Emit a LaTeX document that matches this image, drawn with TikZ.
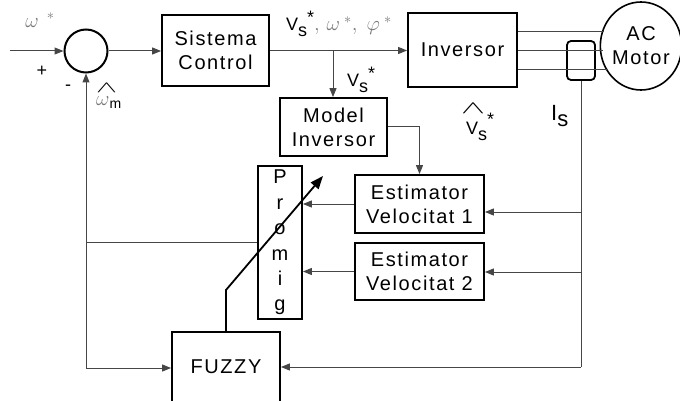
\documentclass[tikz,border=0pt]{standalone}
\usepackage{graphicx}
\usepackage{fontspec}
\setmainfont{Liberation Sans}[LetterSpace=8]
\usetikzlibrary{arrows.meta,shapes.geometric}
\definecolor{gr}{RGB}{120,120,120}
\definecolor{ln}{RGB}{70,70,70}
\begin{document}
\begin{tikzpicture}[x=1pt,y=-1pt,
  font=\fontsize{20}{24}\selectfont,
  blk/.style={draw,line width=1.8pt,align=center,inner sep=0pt},
  conn/.style={draw=ln,line width=1pt},
  arr/.style={conn,-{Triangle[length=9pt,width=7pt]}},
  lbl/.style={inner sep=0pt,font=\fontsize{18}{20}\selectfont},
  gry/.style={text=gr}]
\useasboundingbox (0,0) rectangle (680,401);
\clip (0,0) rectangle (680,401);
% blocks
\node[blk,circle,minimum size=43pt,line width=2pt] (sum) at (86,51) {};
\node[blk,minimum width=107pt,minimum height=71pt] (sc) at (215.5,50.5) {Sistema\\Control};
\node[blk,minimum width=109pt,minimum height=74pt] (inv) at (462.5,50) {Inversor};
\node[blk,ellipse,minimum width=78pt,minimum height=88pt,line width=1.6pt] (mot) at (641,46) {AC\\Motor};
\node[draw,line width=1.8pt,rounded corners=4pt,minimum width=28pt,minimum height=39pt,inner sep=0pt] (sen) at (581,60.5) {};
\node[blk,minimum width=107pt,minimum height=58pt] (mi) at (333.5,127) {Model\\Inversor};
\node[blk,minimum width=129pt,minimum height=58pt] (e1) at (419.5,204) {Estimator\\Velocitat 1};
\node[blk,minimum width=129pt,minimum height=57pt] (e2) at (419.5,271.5) {Estimator\\Velocitat 2};
\node[blk,minimum width=44pt,minimum height=153pt,font=\fontsize{20}{25.4}\selectfont] (pr) at (280,242.5) {P\\r\\o\\m\\i\\g};
\node[blk,minimum width=108pt,minimum height=80pt] (fz) at (226,372) {};
\node[inner sep=0pt] (fzt) at (226,367) {FUZZY};
% coordinates
\coordinate (in) at (10,51);
\coordinate (br) at (333,50.5);
\coordinate (ma) at (604,32);
\coordinate (mb) at (602.5,51);
\coordinate (mc) at (608,70);
\coordinate (sb) at (581,367);
\coordinate (s1) at (581,212);
\coordinate (s2) at (581,272);
\coordinate (fb) at (86,368);
\coordinate (kn) at (226,290);
\coordinate (tip) at (323,176);
% connectors
\draw[arr] (in) -- (sum.west);
\draw[arr] (sum.east) -- (sc.west |- sum.east);
\draw[arr] (sc.east) -- (inv.west |- sc.east);
\draw[arr] (br) -- (br |- mi.north);
\draw[conn] (inv.east |- ma) -- (ma);
\draw[conn] (inv.east |- mb) -- (mb);
\draw[conn] (inv.east |- mc) -- (mc);
\draw[conn] (sen.south) -- (sb);
\draw[arr] (sb) -- (fz.east |- sb);
\draw[arr] (s1) -- (e1.east |- s1);
\draw[arr] (s2) -- (e2.east |- s2);
\draw[arr] (mi.east) -| (e1.north);
\draw[arr] (e1.west) -- (pr.east |- e1.west);
\draw[arr] (e2.west) -- (pr.east |- e2.west);
\draw[arr] (fb) -- (sum.south);
\draw[arr] (fb) -- (fz.west |- fb);
\draw[conn] (pr.west) -- (pr.west -| fb);
\draw[line width=1.8pt,-{Triangle[length=13pt,width=10pt]}] (fz.north) -- (kn) -- (tip);
% labels
\node[lbl,gry,font=\fontsize{20}{22}\selectfont] (lw) at (40,20) {$\omega^{\;\;*}$};
\node[lbl] (lp) at (42,71) {+};
\node[lbl] (lm) at (68,88) {-};
\node[lbl,anchor=north west] (lwm) at (96,78) {\begin{tabular}{@{}l@{}}\resizebox{21pt}{9pt}{$\wedge$}\\[-7pt]\textcolor{gr}{\fontsize{20}{20}\selectfont$\omega$}\raisebox{-3pt}{\fontsize{14}{14}\selectfont m}\end{tabular}};
\node[lbl,anchor=west] (lv1) at (286,24) {V\raisebox{-6pt}{s}\raisebox{7pt}{*}\textcolor{gr}{\fontsize{22}{24}\selectfont$,\,\omega^{\;*},\;\varphi^{\;*}$}};
\node[lbl,anchor=west] (lv2) at (347,80) {V\raisebox{-6pt}{s}\raisebox{7pt}{*}};
\node[lbl,anchor=north west] (lv3) at (461,99) {\begin{tabular}{@{}l@{}}\resizebox{24pt}{10pt}{$\wedge$}\\[-6pt]\hspace{5pt}V\raisebox{-6pt}{s}\raisebox{9pt}{*}\end{tabular}};
\node[lbl,anchor=west,font=\fontsize{22}{24}\selectfont] (lis) at (551,116) {I\raisebox{-6pt}{s}};
\end{tikzpicture}
\end{document}
